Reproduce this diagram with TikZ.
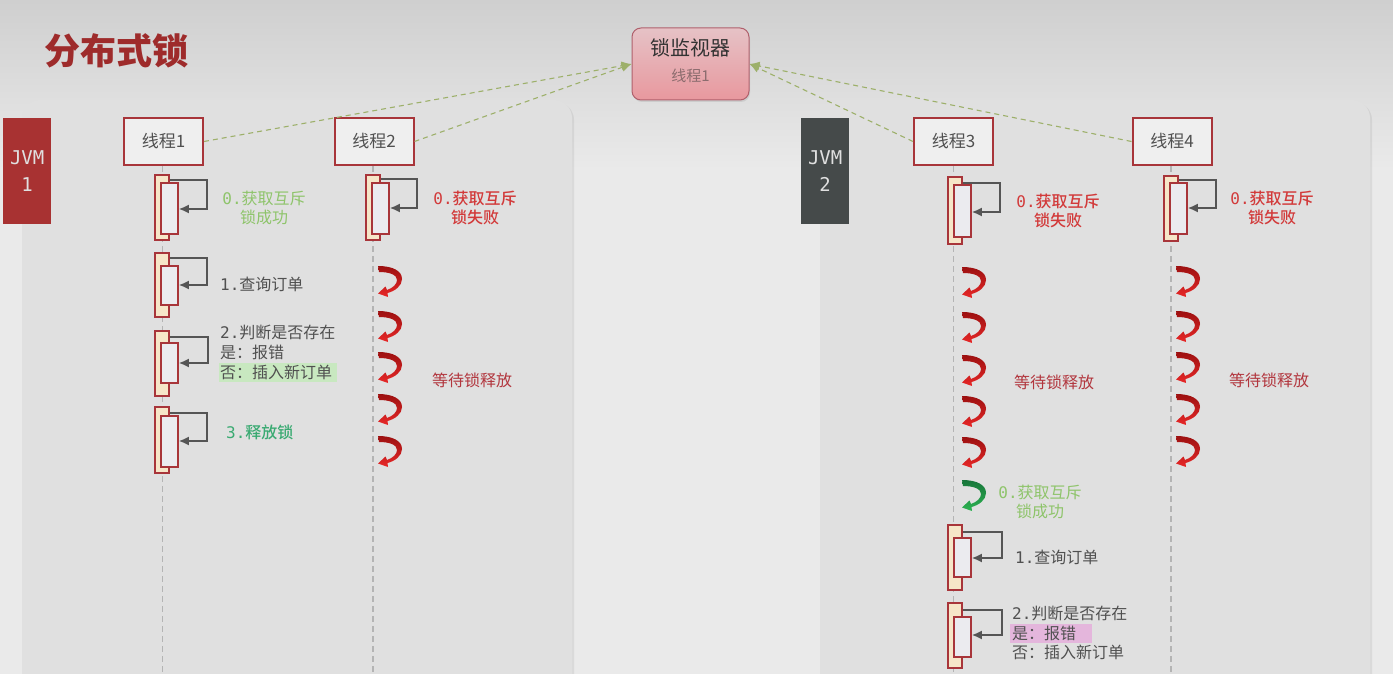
\documentclass[tikz,border=0pt]{standalone}
\usepackage{fontspec}
\setmainfont{Noto Sans CJK SC}
\newfontfamily\mono{DejaVu Sans Mono}
\newfontfamily\med{Noto Sans CJK SC Medium}
\usetikzlibrary{arrows.meta,shadows,fit}
\definecolor{bgtop}{HTML}{CFCFCF}
\definecolor{bgbot}{HTML}{EAEAEA}
\definecolor{panel}{HTML}{E0E0E0}
\definecolor{dkred}{HTML}{A8353A}
\definecolor{boxfill}{HTML}{EFEFEF}
\definecolor{txtgray}{HTML}{505050}
\definecolor{lifegray}{HTML}{B4B4B4}
\definecolor{beige}{HTML}{F6E6C8}
\definecolor{actfill}{HTML}{EBEBEF}
\definecolor{arrgray}{HTML}{555555}
\definecolor{olive}{HTML}{9DB06A}
\definecolor{titlered}{HTML}{9E2B2B}
\definecolor{jvmred}{HTML}{A83232}
\definecolor{jvmgray}{HTML}{454A4A}
\definecolor{jvmtxt}{HTML}{E0E0E0}
\definecolor{lgreen}{HTML}{8EC46A}
\definecolor{redtxt}{HTML}{D23A3A}
\definecolor{waitred}{HTML}{B2363E}
\definecolor{green3}{HTML}{3AAA72}
\definecolor{hlgreen}{HTML}{C8E8C0}
\definecolor{hlpink}{HTML}{E4B6DC}
\definecolor{montop}{HTML}{E6C2C6}
\definecolor{monbot}{HTML}{E8989E}
\definecolor{monborder}{HTML}{B0606C}
\definecolor{monsub}{HTML}{8C6C6E}
\definecolor{arrdark}{HTML}{9C1010}
\definecolor{arrlight}{HTML}{E82828}
\definecolor{grdark}{HTML}{17753A}
\definecolor{grlight}{HTML}{2DB352}
\tikzset{
  threadbox/.style={draw=dkred, line width=2pt, fill=boxfill, minimum width=79pt,
    minimum height=47pt, inner sep=0pt, font=\fontsize{17}{20}\selectfont, text=txtgray},
  lifeline/.style={draw=lifegray, line width=1.5pt, dash pattern=on 6pt off 4pt},
  actout/.style={draw=dkred, line width=1.6pt, fill=beige, inner sep=0pt},
  actin/.style={draw=dkred, line width=1.6pt, fill=actfill, inner sep=0pt},
  selfarr/.style={draw=arrgray, line width=1.8pt, -{Latex[length=10pt,width=9pt]}},
  conn/.style={draw=olive, line width=1.1pt, dash pattern=on 5pt off 4pt, -{Latex[length=10pt,width=9pt]}},
  lbl/.style={font=\fontsize{16}{19}\selectfont, inner sep=0pt},
  bold/.style={font=\med\fontsize{16}{19}\selectfont},
  redarr/.style={top color=arrdark, bottom color=arrlight},
  grnarr/.style={top color=grdark, bottom color=grlight},
  jvmbox/.style={minimum width=48pt, minimum height=106pt, anchor=north west, inner sep=0pt,
    font=\mono\fontsize{19}{27}\selectfont, text=jvmtxt, align=center},
  panelbox/.style={fill=panel, rounded corners=18pt, drop shadow={opacity=0.15, shadow xshift=2pt, shadow yshift=-2pt}},
}
\newcommand\actv[9]{%
  \node[actout, fit={(#2,#3) (#2+14,#4)}] (#1o) {};
  \node[actin, fit={(#2+6,#5) (#2+23,#6)}] (#1i) {};
  \draw[selfarr] (#1o.east |- 0,#7) -- (#9,#7) -- (#9,#8) -- (#1i.east |- 0,#8);
}
\newcommand\uarr[3][redarr]{%
  \shade[#1, shift={(#2,#3)}] (0,0) .. controls (15,0) and (24,5) .. (24,13)
    .. controls (24,20) and (17,25) .. (9.5,27) -- (10,31) -- (0,27.5) -- (7.5,20.5) -- (9,24)
    .. controls (15,22) and (19,18) .. (19,14) .. controls (19,9) and (12,6) .. (1,6) -- cycle;
}
\begin{document}
\begin{tikzpicture}[x=1pt,y=-1pt]
\clip (0,0) rectangle (1393,674);
\useasboundingbox (0,0) rectangle (1393,674);
% background
\fill[bgbot] (0,0) rectangle (1393,674);
\shade[top color=bgtop, bottom color=bgbot] (0,0) rectangle (1393,170);
% panels
\fill[panelbox] (22,100) rectangle (572,720);
\fill[panelbox] (820,100) rectangle (1370,720);
% title
\node[font=\fontsize{36}{40}\selectfont\bfseries, text=titlered, anchor=west, inner sep=0pt] (title) at (44,51) {分布式锁};
% JVM boxes
\node[jvmbox, fill=jvmred] (jvm1) at (3,118) {JVM\\1};
\node[jvmbox, fill=jvmgray] (jvm2) at (801,118) {JVM\\2};
% monitor
\node[draw=monborder, line width=1pt, rounded corners=9pt, minimum width=117pt, minimum height=72pt,
  top color=montop, bottom color=monbot, drop shadow={opacity=0.2, shadow xshift=1pt, shadow yshift=-2pt}] (m) at (690.5,64) {};
\node[font=\fontsize{20}{24}\selectfont, text=black!80, inner sep=0pt] (mt) at (690.5,48) {锁监视器};
\node[font=\fontsize{15}{18}\selectfont, text=monsub, inner sep=0pt] (ms) at (690.5,76) {线程1};
% thread boxes
\node[threadbox] (t1) at (163.5,141.5) {线程1};
\node[threadbox] (t2) at (374,141.5) {线程2};
\node[threadbox] (t3) at (953.5,141.5) {线程3};
\node[threadbox] (t4) at (1172,141.5) {线程4};
% connectors to monitor
\draw[conn] (t1.east) -- (m.west);
\draw[conn] (t2.east) -- (m.west);
\draw[conn] (t3.west) -- (m.east);
\draw[conn] (t4.west) -- (m.east);
% lifelines
\coordinate (e1) at (t1.south |- 0,680);
\coordinate (e2) at (t2.south |- 0,680);
\coordinate (e3) at (t3.south |- 0,680);
\coordinate (e4) at (t4.south |- 0,680);
\draw[lifeline] ([xshift=-1pt]t1.south) -- ([xshift=-1pt]e1);
\draw[lifeline] ([xshift=-1pt]t2.south) -- ([xshift=-1pt]e2);
\draw[lifeline] (t3.south) -- (e3);
\draw[lifeline] ([xshift=-1pt]t4.south) -- ([xshift=-1pt]e4);
% thread 1 activations
\actv{a}{155}{175}{240}{183}{234}{180}{209}{207}
\actv{b}{155}{253}{317}{266}{305}{258}{285}{207}
\actv{c}{155}{331}{396}{343}{383}{337}{363}{208}
\actv{d}{155}{407}{473}{416}{467}{413}{441}{207}
% thread 2
\actv{e}{366}{175}{240}{183}{234}{179}{208}{417}
% thread 3
\actv{f}{948}{177}{244}{185}{237}{183}{212}{1000}
\actv{g}{948}{525}{590}{538}{577}{532}{558}{1002}
\actv{h}{948}{603}{668}{617}{657}{610}{635}{1002}
% thread 4
\actv{k}{1164}{176}{241}{183}{234}{180}{208}{1216}
% waiting arrows
\foreach \yy in {266,311,352,394,436} {\uarr{378}{\yy}}
\foreach \yy in {267,312,355,396,437} {\uarr{962}{\yy}}
\uarr[grnarr]{962}{480}
\foreach \yy in {266,311,352,394,436} {\uarr{1176}{\yy}}
% highlights
\fill[hlgreen] (219,363) rectangle (337,382);
\fill[hlpink] (1010,624) rectangle (1092,643);
% thread 1 labels
\node[lbl, text=lgreen, align=center] (l1a) at (264,207.5) {{\mono 0.}获取互斥\\锁成功};
\node[lbl, text=txtgray, anchor=west] (l1b) at (220,284) {{\mono 1.}查询订单};
\node[lbl, text=txtgray, anchor=west] (l1c) at (220,332) {{\mono 2.}判断是否存在};
\node[lbl, text=txtgray, anchor=west] (l1d) at (220,352) {是：报错};
\node[lbl, text=txtgray, anchor=west] (l1e) at (220,372) {否：插入新订单};
\node[lbl, bold, text=green3, anchor=west] (l1f) at (226,432) {{\mono 3.}释放锁};
% thread 2 labels
\node[lbl, bold, text=redtxt, align=center] (l2a) at (475,207.5) {{\mono 0.}获取互斥\\锁失败};
\node[lbl, text=waitred, anchor=west] (l2b) at (432,380) {等待锁释放};
% thread 3 labels
\node[lbl, bold, text=redtxt, align=center] (l3a) at (1058,211) {{\mono 0.}获取互斥\\锁失败};
\node[lbl, text=waitred, anchor=west] (l3b) at (1014,382) {等待锁释放};
\node[lbl, text=lgreen, align=center] (l3c) at (1040,501.5) {{\mono 0.}获取互斥\\锁成功};
\node[lbl, text=txtgray, anchor=west] (l3d) at (1015,557) {{\mono 1.}查询订单};
\node[lbl, text=txtgray, anchor=west] (l3e) at (1012,613) {{\mono 2.}判断是否存在};
\node[lbl, text=txtgray, anchor=west] (l3f) at (1012,633) {是：报错};
\node[lbl, text=txtgray, anchor=west] (l3g) at (1012,652) {否：插入新订单};
% thread 4 labels
\node[lbl, bold, text=redtxt, align=center] (l4a) at (1272,207.5) {{\mono 0.}获取互斥\\锁失败};
\node[lbl, text=waitred, anchor=west] (l4b) at (1229,380) {等待锁释放};
\end{tikzpicture}
\end{document}
